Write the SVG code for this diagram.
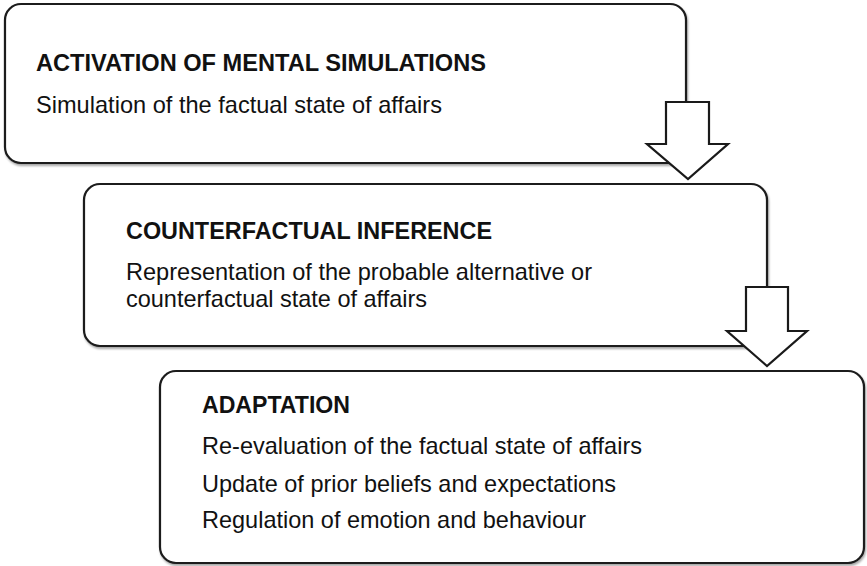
<svg xmlns="http://www.w3.org/2000/svg" width="867" height="566" viewBox="0 0 867 566">
<style>
.box{fill:#fff;stroke:#1a1a1a;stroke-width:2.2;filter:url(#sh)}
.arrow{fill:#fff;stroke:#1a1a1a;stroke-width:2.2;stroke-linejoin:miter}
.t{font-family:"Liberation Sans Narrow","Arial Narrow","Liberation Sans",sans-serif;font-size:24px;fill:#111}
.b{font-weight:bold}
</style>
<defs>
<filter id="sh" x="-5%" y="-5%" width="110%" height="115%">
<feDropShadow dx="1" dy="2" stdDeviation="1.2" flood-color="#000" flood-opacity="0.35"/>
</filter>
</defs>
<g id="node1">
<rect class="box" x="5" y="4" width="681" height="159" rx="16"/>
<text class="t b" x="36" y="71" textLength="450" lengthAdjust="spacingAndGlyphs">ACTIVATION OF MENTAL SIMULATIONS</text>
<text class="t" x="36" y="113" textLength="406" lengthAdjust="spacingAndGlyphs">Simulation of the factual state of affairs</text>
</g>
<g id="node2">
<rect class="box" x="84" y="184" width="683" height="162" rx="16"/>
<text class="t b" x="126" y="239" textLength="366" lengthAdjust="spacingAndGlyphs">COUNTERFACTUAL INFERENCE</text>
<text class="t" x="126" y="280" textLength="466" lengthAdjust="spacingAndGlyphs">Representation of the probable alternative or</text>
<text class="t" x="126" y="307" textLength="301" lengthAdjust="spacingAndGlyphs">counterfactual state of affairs</text>
</g>
<g id="node3">
<rect class="box" x="160" y="371" width="704" height="192" rx="16"/>
<text class="t b" x="202" y="413" textLength="148" lengthAdjust="spacingAndGlyphs">ADAPTATION</text>
<text class="t" x="202" y="454" textLength="440" lengthAdjust="spacingAndGlyphs">Re-evaluation of the factual state of affairs</text>
<text class="t" x="202" y="492" textLength="414" lengthAdjust="spacingAndGlyphs">Update of prior beliefs and expectations</text>
<text class="t" x="202" y="528" textLength="384" lengthAdjust="spacingAndGlyphs">Regulation of emotion and behaviour</text>
</g>
<g id="connectors">
<polygon class="arrow" points="666,102 709,102 709,144 728,144 688,179 647,144 666,144"/>
<polygon class="arrow" points="746,287 788,287 788,331 807,331 767,366 727,331 746,331"/>
</g>
</svg>
